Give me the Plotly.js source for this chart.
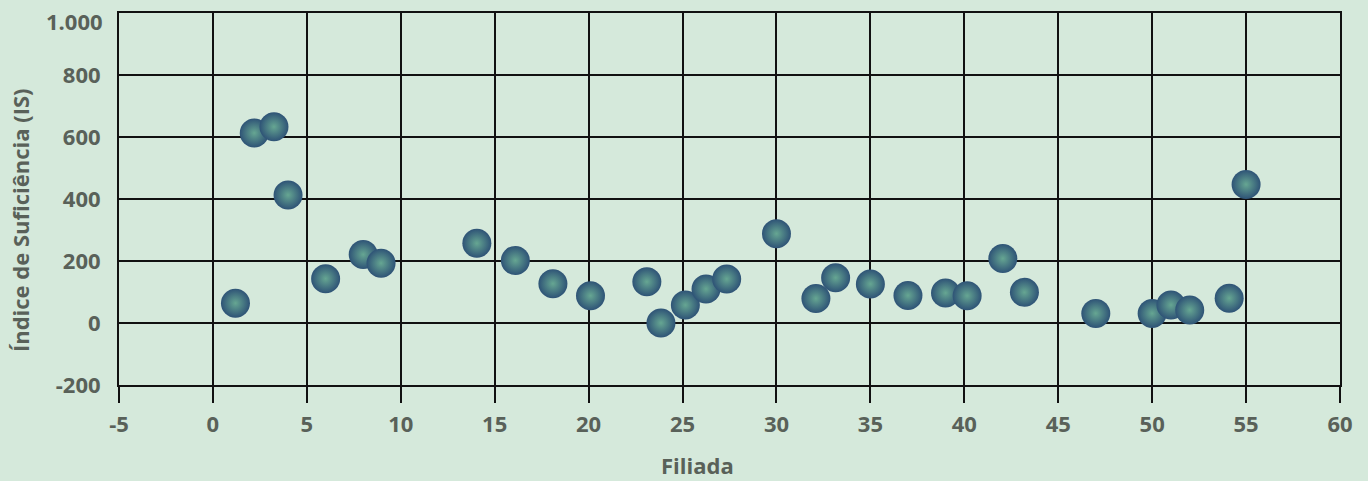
<!DOCTYPE html>
<html>
<head>
<meta charset="utf-8">
<script src="https://cdn.plot.ly/plotly-3.0.1.min.js"></script>
<style>
html,body{margin:0;padding:0;background:#d5e9db;}
#chart{width:1368px;height:481px;}
</style>
</head>
<body>
<div id="chart"></div>
<script>
// Filiada (x) and Índice de Suficiência (y)
const filiada = [1.2, 2.2, 3.25, 4.0, 6.0, 8.0, 8.95, 14.05, 16.1, 18.1, 20.1, 23.1, 23.85, 25.15, 26.25, 27.35, 30.0, 32.1, 33.15, 35.0, 37.0, 39.0, 40.15, 42.05, 43.2, 47.0, 50.0, 51.0, 52.0, 54.1, 55.0];
const indice = [64, 613, 633, 413, 143, 221, 193, 257, 202, 127, 88, 133, 0, 58, 110, 142, 288, 79, 146, 126, 89, 97, 88, 208, 99, 31, 31, 58, 42, 80, 447];
const xTicks = [-5, 0, 5, 10, 15, 20, 25, 30, 35, 40, 45, 50, 55, 60];
const xTickText = ['-5', '0', '5', '10', '15', '20', '25', '30', '35', '40', '45', '50', '55', '60'];
const yTicks = [-200, 0, 200, 400, 600, 800, 1000];
const yTickText = ['-200', '0', '200', '400', '600', '800', '1.000'];
const xTitle = 'Filiada';
const yTitle = 'Índice de Suficiência (IS)';

const textColor = '#596159';
const fontFam = '"Open Sans", "Noto Sans", sans-serif';
const tickFont = {family: fontFam, size: 22, color: textColor, weight: 'bold'};

// the top tick label sits a little lower than its gridline in the reference,
// so it is drawn as an annotation anchored to that tick value
const lastIdx = yTicks.length - 1;
const yAxisText = yTickText.map((t, i) => i === lastIdx ? '' : t);

const trace = {
  x: filiada,
  y: indice,
  mode: 'markers',
  type: 'scatter',
  marker: {
    size: 29,
    color: '#2e5376',
    gradient: {type: 'radial', color: '#66a692'},
    line: {width: 0}
  },
  hoverinfo: 'x+y'
};

const layout = {
  width: 1368,
  height: 481,
  margin: {l: 119, r: 28, t: 13, b: 96},
  paper_bgcolor: '#d5e9db',
  plot_bgcolor: '#d5e9db',
  showlegend: false,
  font: {family: fontFam, color: textColor, size: 22},
  xaxis: {
    range: [-5, 60],
    tickmode: 'array',
    tickvals: xTicks,
    ticktext: xTickText,
    ticks: 'outside',
    ticklen: 16,
    tickwidth: 2,
    tickcolor: '#111',
    ticklabelstandoff: 3,
    ticklabeloverflow: 'allow',
    showgrid: true,
    gridcolor: '#111',
    gridwidth: 2,
    zeroline: false,
    showline: true,
    linecolor: '#111',
    linewidth: 2,
    mirror: true,
    tickfont: tickFont
  },
  yaxis: {
    range: [-200, 1000],
    tickmode: 'array',
    tickvals: yTicks,
    ticktext: yAxisText,
    ticks: '',
    ticklabelstandoff: 12,
    ticklabeloverflow: 'allow',
    showgrid: true,
    gridcolor: '#111',
    gridwidth: 2,
    zeroline: false,
    showline: true,
    linecolor: '#111',
    linewidth: 2,
    mirror: true,
    tickfont: tickFont
  },
  annotations: [
    {
      text: '<b>' + yTickText[lastIdx] + '</b>',
      xref: 'paper', yref: 'y',
      x: 0, y: yTicks[lastIdx],
      xanchor: 'right', yanchor: 'middle',
      xshift: -14, yshift: -8,
      showarrow: false,
      font: {family: fontFam, size: 22, color: textColor}
    },
    {
      text: '<b>' + xTitle + '</b>',
      xref: 'paper', yref: 'paper',
      x: 0.474, y: -0.215,
      xanchor: 'center', yanchor: 'middle',
      showarrow: false,
      font: {family: fontFam, size: 22, color: textColor}
    },
    {
      text: '<b>' + yTitle + '</b>',
      xref: 'paper', yref: 'paper',
      x: -0.081, y: 0.4435,
      xanchor: 'center', yanchor: 'middle',
      textangle: -90,
      showarrow: false,
      font: {family: fontFam, size: 22, color: textColor}
    }
  ]
};

Plotly.newPlot('chart', [trace], layout, {displayModeBar: false, staticPlot: true});
</script>
</body>
</html>
